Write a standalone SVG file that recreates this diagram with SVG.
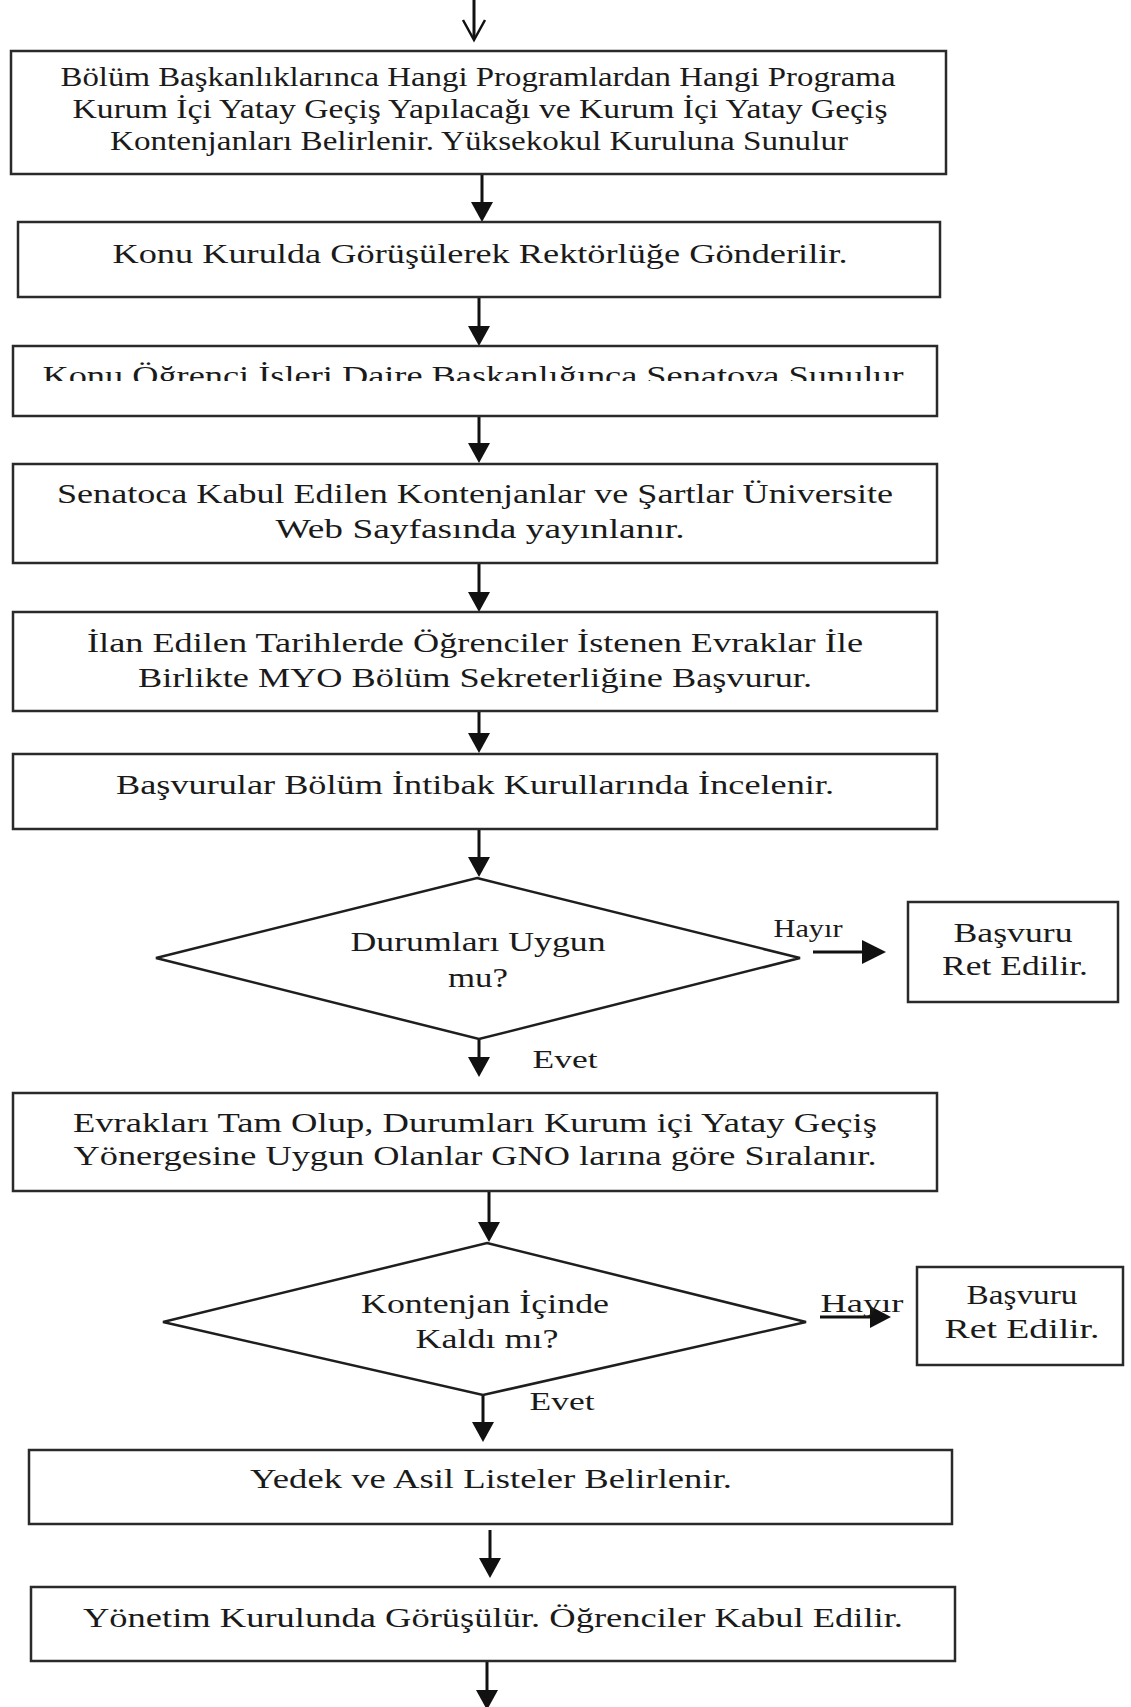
<svg xmlns="http://www.w3.org/2000/svg" width="1131" height="1707" viewBox="0 0 1131 1707">
<style>
.box{fill:#fff;stroke:#2a2a2a;stroke-width:2.5}
.dia{fill:none;stroke:#1e1e1e;stroke-width:2.5}
.t{font-family:"Liberation Serif","Times New Roman",serif;font-size:27px;fill:#1a1a1a;text-anchor:middle}
.s{font-size:25px}
.ln{stroke:#111;stroke-width:3;fill:none}
.hd{fill:#111}
</style>
<defs>
<clipPath id="clip3"><rect x="0" y="340" width="1131" height="41"/></clipPath>
</defs>
<rect width="1131" height="1707" fill="#fff"/>
<g id="connectors">
<line class="ln" x1="474" y1="0" x2="474" y2="39" stroke-width="2"/>
<polyline points="463,20 474,40 485,20" fill="none" stroke="#111" stroke-width="2.5"/>
<line class="ln" x1="482" y1="174" x2="482" y2="205"/><polygon class="hd" points="471,202 493,202 482,222"/>
<line class="ln" x1="479" y1="297" x2="479" y2="330"/><polygon class="hd" points="468,326 490,326 479,346"/>
<line class="ln" x1="479" y1="416" x2="479" y2="447"/><polygon class="hd" points="468,443 490,443 479,463"/>
<line class="ln" x1="479" y1="563" x2="479" y2="596"/><polygon class="hd" points="468,592 490,592 479,612"/>
<line class="ln" x1="479" y1="711" x2="479" y2="737"/><polygon class="hd" points="468,733 490,733 479,753"/>
<line class="ln" x1="479" y1="829" x2="479" y2="861"/><polygon class="hd" points="468,857 490,857 479,877"/>
<line class="ln" x1="479" y1="1039" x2="479" y2="1061"/><polygon class="hd" points="468,1057 490,1057 479,1077"/>
<line class="ln" x1="489" y1="1191" x2="489" y2="1226"/><polygon class="hd" points="478,1222 500,1222 489,1242"/>
<line class="ln" x1="483" y1="1395" x2="483" y2="1426"/><polygon class="hd" points="472,1422 494,1422 483,1442"/>
<line class="ln" x1="490" y1="1530" x2="490" y2="1562"/><polygon class="hd" points="479,1558 501,1558 490,1578"/>
<line class="ln" x1="487" y1="1661" x2="487" y2="1694"/><polygon class="hd" points="476,1690 498,1690 487,1710"/>
<line class="ln" x1="813" y1="952" x2="866" y2="952" stroke-width="4"/><polygon class="hd" points="862,940 862,964 886,952"/>
<line class="ln" x1="820" y1="1317" x2="874" y2="1317" stroke-width="4"/><polygon class="hd" points="870,1306 870,1328 891,1317"/>
<text class="t s" x="808" y="937" textLength="69" lengthAdjust="spacingAndGlyphs">Hayır</text>
<text class="t s" x="862" y="1312" textLength="83" lengthAdjust="spacingAndGlyphs">Hayır</text>
<text class="t s" x="565" y="1068" textLength="65" lengthAdjust="spacingAndGlyphs">Evet</text>
<text class="t s" x="562" y="1410" textLength="65" lengthAdjust="spacingAndGlyphs">Evet</text>
</g>
<g id="n1">
<rect class="box" x="11" y="51" width="935" height="123"/>
<text class="t" x="478" y="86" textLength="835" lengthAdjust="spacingAndGlyphs">Bölüm Başkanlıklarınca Hangi Programlardan Hangi Programa</text>
<text class="t" x="480" y="118" textLength="815" lengthAdjust="spacingAndGlyphs">Kurum İçi Yatay Geçiş Yapılacağı ve Kurum İçi Yatay Geçiş</text>
<text class="t" x="479" y="150" textLength="738" lengthAdjust="spacingAndGlyphs">Kontenjanları Belirlenir. Yüksekokul Kuruluna Sunulur</text>
</g>
<g id="n2">
<rect class="box" x="18" y="222" width="922" height="75"/>
<text class="t" x="480" y="263" textLength="735" lengthAdjust="spacingAndGlyphs">Konu Kurulda Görüşülerek Rektörlüğe Gönderilir.</text>
</g>
<g id="n3">
<rect class="box" x="13" y="346" width="924" height="70"/>
<text class="t" x="473" y="385" textLength="861" lengthAdjust="spacingAndGlyphs" clip-path="url(#clip3)">Konu Öğrenci İşleri Daire Başkanlığınca Senatoya Sunulur</text>
</g>
<g id="n4">
<rect class="box" x="13" y="464" width="924" height="99"/>
<text class="t" x="475" y="503" textLength="836" lengthAdjust="spacingAndGlyphs">Senatoca Kabul Edilen Kontenjanlar ve Şartlar Üniversite</text>
<text class="t" x="480" y="538" textLength="409" lengthAdjust="spacingAndGlyphs">Web Sayfasında yayınlanır.</text>
</g>
<g id="n5">
<rect class="box" x="13" y="612" width="924" height="99"/>
<text class="t" x="475" y="652" textLength="776" lengthAdjust="spacingAndGlyphs">İlan Edilen Tarihlerde Öğrenciler İstenen Evraklar İle</text>
<text class="t" x="475" y="687" textLength="674" lengthAdjust="spacingAndGlyphs">Birlikte MYO Bölüm Sekreterliğine Başvurur.</text>
</g>
<g id="n6">
<rect class="box" x="13" y="754" width="924" height="75"/>
<text class="t" x="475" y="794" textLength="718" lengthAdjust="spacingAndGlyphs">Başvurular Bölüm İntibak Kurullarında İncelenir.</text>
</g>
<g id="d1">
<polygon class="dia" points="477,878 800,958 479,1039 156,958"/>
<text class="t" x="478" y="951" textLength="255" lengthAdjust="spacingAndGlyphs">Durumları Uygun</text>
<text class="t" x="478" y="987" textLength="60" lengthAdjust="spacingAndGlyphs">mu?</text>
</g>
<g id="r1">
<rect class="box" x="908" y="902" width="210" height="100" stroke-width="3"/>
<text class="t" x="1013" y="942" textLength="119" lengthAdjust="spacingAndGlyphs">Başvuru</text>
<text class="t" x="1015" y="975" textLength="146" lengthAdjust="spacingAndGlyphs">Ret Edilir.</text>
</g>
<g id="n7">
<rect class="box" x="13" y="1093" width="924" height="98"/>
<text class="t" x="475" y="1132" textLength="804" lengthAdjust="spacingAndGlyphs">Evrakları Tam Olup, Durumları Kurum içi Yatay Geçiş</text>
<text class="t" x="475" y="1165" textLength="803" lengthAdjust="spacingAndGlyphs">Yönergesine Uygun Olanlar GNO larına göre Sıralanır.</text>
</g>
<g id="d2">
<polygon class="dia" points="487,1243 806,1322 483,1395 163,1322"/>
<text class="t" x="485" y="1313" textLength="248" lengthAdjust="spacingAndGlyphs">Kontenjan İçinde</text>
<text class="t" x="487" y="1348" textLength="143" lengthAdjust="spacingAndGlyphs">Kaldı mı?</text>
</g>
<g id="r2">
<rect class="box" x="917" y="1267" width="206" height="98"/>
<text class="t" x="1022" y="1304" textLength="111" lengthAdjust="spacingAndGlyphs">Başvuru</text>
<text class="t" x="1022" y="1338" textLength="155" lengthAdjust="spacingAndGlyphs">Ret Edilir.</text>
</g>
<g id="n8">
<rect class="box" x="29" y="1450" width="923" height="74"/>
<text class="t" x="491" y="1488" textLength="482" lengthAdjust="spacingAndGlyphs">Yedek ve Asil Listeler Belirlenir.</text>
</g>
<g id="n9">
<rect class="box" x="31" y="1587" width="924" height="74"/>
<text class="t" x="493" y="1627" textLength="820" lengthAdjust="spacingAndGlyphs">Yönetim Kurulunda Görüşülür. Öğrenciler Kabul Edilir.</text>
</g>
</svg>
